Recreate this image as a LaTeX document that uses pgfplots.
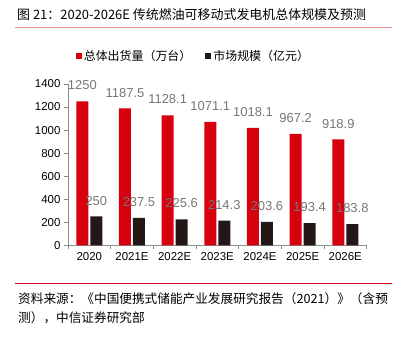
\documentclass[border=0pt]{standalone}
\usepackage{pgfplots}
\pgfplotsset{compat=1.18}
\usepackage{fontspec}
\setmainfont{Liberation Sans}
\newfontfamily\cjk{Noto Sans CJK SC}
\definecolor{cred}{HTML}{D7000F}
\definecolor{cdark}{HTML}{231815}
\definecolor{clab}{HTML}{767676}
\definecolor{caxis}{HTML}{8C8C8C}
\definecolor{cline}{HTML}{E58C8C}
\begin{document}
\begin{tikzpicture}[x=1bp,y=1bp]
\useasboundingbox (0,0) rectangle (393,339);
\node[anchor=west, inner sep=0] at (17,339-15) {\fontsize{13}{15}\selectfont\cjk 图 21：2020-2026E 传统燃油可移动式发电机总体规模及预测};
\draw[cline, line width=1bp] (15,339-27.3) -- (392,339-27.3);
\begin{axis}[
  at={(68bp,93.7bp)}, anchor=south west,
  scale only axis, width=298.6bp, height=161.3bp,
  ybar, bar width=12bp,
  xmin=-0.5, xmax=6.5, ymin=0, ymax=1400,
  ytick={0,200,...,1400},
  xtick={0,...,6},
  xticklabels={2020,2021E,2022E,2023E,2024E,2025E,2026E},
  minor xtick={-0.5,0.5,...,6.5},
  axis x line*=bottom, axis y line*=left,
  axis line style={caxis, line width=0.8bp},
  every tick/.style={caxis, line width=0.8bp},
  major x tick style={draw=none},
  tick align=outside, major tick length=4bp, minor tick length=4bp,
  /pgf/number format/assume math mode=true,
  /pgf/number format/1000 sep={},
  ticklabel style={font=\fontsize{11.5}{13}\selectfont, text=black},
  nodes near coords,
  nodes near coords style={font=\fontsize{13}{15}\selectfont, text=clab, anchor=south, inner sep=0pt, yshift=11bp},
  legend style={draw=none, fill=none, legend columns=2, at={(axis description cs:0.42,1.174)}, anchor=center,
    font=\fontsize{12}{14}\selectfont\cjk, /tikz/every even column/.append style={column sep=12bp}},
  legend image code/.code={\fill[#1] (0bp,-3bp) rectangle (6bp,3bp);},
]
\addplot[fill=cred, draw=none] coordinates {(0,1250) (1,1187.5) (2,1128.1) (3,1071.1) (4,1018.1) (5,967.2) (6,918.9)};
\addplot[fill=cdark, draw=none] coordinates {(0,250) (1,237.5) (2,225.6) (3,214.3) (4,203.6) (5,193.4) (6,183.8)};
\legend{总体出货量（万台）, 市场规模（亿元）}
\end{axis}
\draw[cred, line width=1bp] (15,339-284) -- (392,339-284);
\node[anchor=west, inner sep=0] at (18,339-299) {\fontsize{12.7}{15}\selectfont\cjk 资料来源：《中国便携式储能产业发展研究报告（2021）》（含预};
\node[anchor=west, inner sep=0] at (18,339-318) {\fontsize{12.7}{15}\selectfont\cjk 测），中信证券研究部};
\end{tikzpicture}
\end{document}
